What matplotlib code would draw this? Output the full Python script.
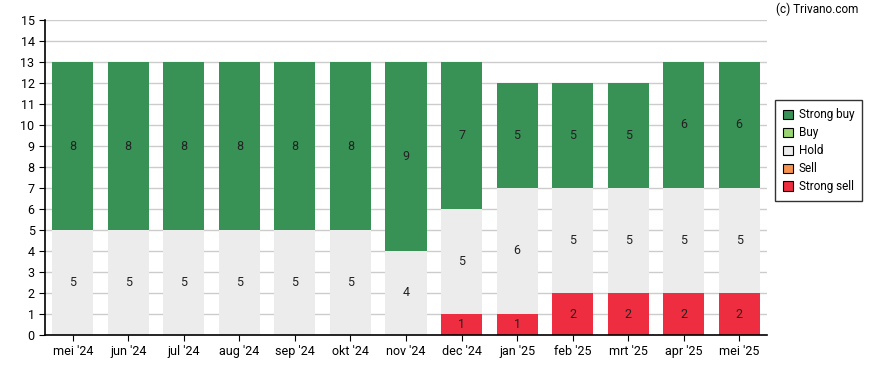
import matplotlib
matplotlib.use("Agg")
import matplotlib.pyplot as plt
from matplotlib.patches import Patch

plt.rcParams['font.family'] = ['Roboto', 'DejaVu Sans']

months = ["mei '24", "jun '24", "jul '24", "aug '24", "sep '24", "okt '24", "nov '24",
          "dec '24", "jan '25", "feb '25", "mrt '25", "apr '25", "mei '25"]
strong_sell = [0, 0, 0, 0, 0, 0, 0, 1, 1, 2, 2, 2, 2]
sell = [0] * 13
hold = [5, 5, 5, 5, 5, 5, 4, 5, 6, 5, 5, 5, 5]
buy = [0] * 13
strong_buy = [8, 8, 8, 8, 8, 8, 9, 7, 5, 5, 5, 6, 6]

series = [
    ("Strong sell", strong_sell, "#ee2d40"),
    ("Sell", sell, "#f6914f"),
    ("Hold", hold, "#ececec"),
    ("Buy", buy, "#99d571"),
    ("Strong buy", strong_buy, "#389256"),
]

fig = plt.figure(figsize=(8.88, 3.70), dpi=100)
ax = fig.add_axes([45/888, 35/370, (767-45)/888, (335-20)/370])

x = list(range(len(months)))
bottom = [0] * len(months)
for name, vals, col in series:
    ax.bar(x, vals, bottom=bottom, width=0.74, color=col, zorder=2)
    for i, v in enumerate(vals):
        if v > 0:
            ax.text(i, bottom[i] + v / 2, str(v), ha='center', va='center',
                    fontsize=9, color='#222222', zorder=3)
    bottom = [b + v for b, v in zip(bottom, vals)]

ax.set_xlim(-0.5, len(months) - 0.5)
ax.set_ylim(0, 15)
ax.set_yticks(range(0, 16))
ax.set_xticks(x)
ax.set_xticklabels(months)
ax.tick_params(axis='both', labelsize=9, length=4, color='black', direction='out')
ax.grid(axis='y', color='#cccccc', linewidth=1, zorder=0)
ax.set_axisbelow(True)
for s in ['top', 'right']:
    ax.spines[s].set_visible(False)
ax.spines['left'].set_linewidth(1.2)
ax.spines['bottom'].set_linewidth(1.2)

handles = [Patch(facecolor=c, edgecolor='black', linewidth=0.8, label=n)
           for n, _, c in reversed(series)]
leg = fig.legend(handles=handles, loc='upper left', bbox_to_anchor=(775/888, 1 - 100/370),
                 fontsize=8.5, frameon=True, fancybox=False, edgecolor='black',
                 handlelength=0.8, handleheight=0.8, handletextpad=0.5,
                 borderpad=0.7, labelspacing=0.42, borderaxespad=0)
leg.get_frame().set_linewidth(1.0)

fig.text(858/888, 1 - 9/370, "(c) Trivano.com", ha='right', va='center', fontsize=8.5)

fig.savefig("out.png", dpi=100)
